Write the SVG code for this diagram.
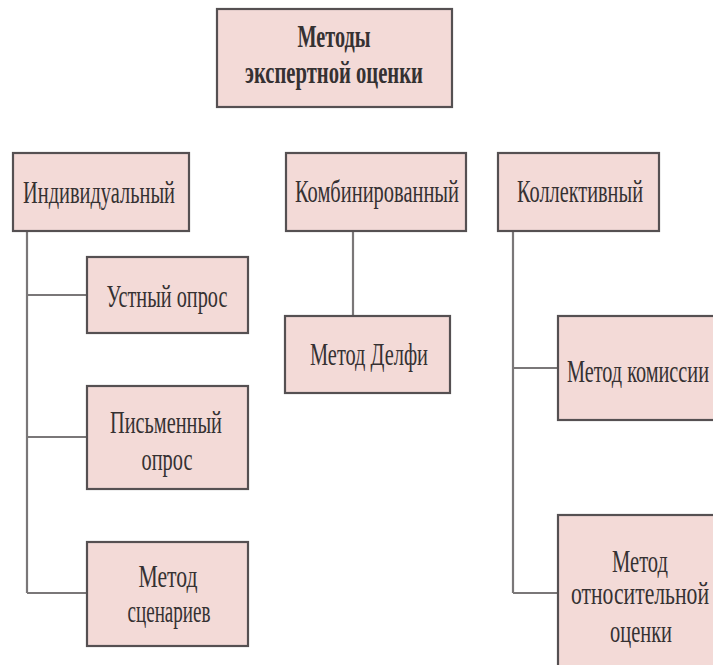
<svg xmlns="http://www.w3.org/2000/svg" width="713" height="665" viewBox="0 0 713 665">
<style>
.box{fill:#f3dad7;stroke:#555052;stroke-width:2.2}
.t{font-family:'Liberation Serif','Times New Roman',Times,serif;font-size:31px;fill:#353132;text-anchor:middle}
.b{font-weight:bold}
.c{stroke:#7a7778;stroke-width:2.2;fill:none}
</style>
<rect width="713" height="665" fill="#ffffff"/>
<g id="connectors">
<path class="c" d="M27 231V593M27 295H87M27 437H87M27 593H87"/>
<path class="c" d="M353 231V316"/>
<path class="c" d="M513 231V593M513 368H558M513 593H558"/>
</g>
<g id="root">
<rect class="box" x="217" y="9" width="235" height="98"/>
<text class="t b" x="334" y="47" textLength="73" lengthAdjust="spacingAndGlyphs">Методы</text>
<text class="t b" x="334" y="83" textLength="178" lengthAdjust="spacingAndGlyphs">экспертной оценки</text>
</g>
<g id="individual">
<rect class="box" x="13" y="153" width="176" height="78"/>
<text class="t" x="99" y="203" textLength="152" lengthAdjust="spacingAndGlyphs">Индивидуальный</text>
</g>
<g id="combined">
<rect class="box" x="286" y="153" width="180" height="78"/>
<text class="t" x="377" y="202" textLength="164" lengthAdjust="spacingAndGlyphs">Комбинированный</text>
</g>
<g id="collective">
<rect class="box" x="498" y="153" width="161" height="78"/>
<text class="t" x="580" y="202" textLength="126" lengthAdjust="spacingAndGlyphs">Коллективный</text>
</g>
<g id="oral">
<rect class="box" x="87" y="257" width="161" height="76"/>
<text class="t" x="167" y="307" textLength="121" lengthAdjust="spacingAndGlyphs">Устный опрос</text>
</g>
<g id="written">
<rect class="box" x="87" y="386" width="161" height="103"/>
<text class="t" x="166" y="433" textLength="112" lengthAdjust="spacingAndGlyphs">Письменный</text>
<text class="t" x="167" y="470" textLength="51" lengthAdjust="spacingAndGlyphs">опрос</text>
</g>
<g id="scenario">
<rect class="box" x="87" y="542" width="161" height="104"/>
<text class="t" x="168" y="587" textLength="59" lengthAdjust="spacingAndGlyphs">Метод</text>
<text class="t" x="169" y="622" textLength="83" lengthAdjust="spacingAndGlyphs">сценариев</text>
</g>
<g id="delphi">
<rect class="box" x="285" y="316" width="165" height="77"/>
<text class="t" x="369" y="365" textLength="118" lengthAdjust="spacingAndGlyphs">Метод Делфи</text>
</g>
<g id="commission">
<rect class="box" x="558" y="316" width="170" height="104"/>
<text class="t" x="638" y="382" textLength="142" lengthAdjust="spacingAndGlyphs">Метод комиссии</text>
</g>
<g id="relative">
<rect class="box" x="558" y="515" width="170" height="170"/>
<text class="t" x="640" y="572" textLength="56" lengthAdjust="spacingAndGlyphs">Метод</text>
<text class="t" x="640" y="604" textLength="138" lengthAdjust="spacingAndGlyphs">относительной</text>
<text class="t" x="641" y="642" textLength="62" lengthAdjust="spacingAndGlyphs">оценки</text>
</g>
</svg>
